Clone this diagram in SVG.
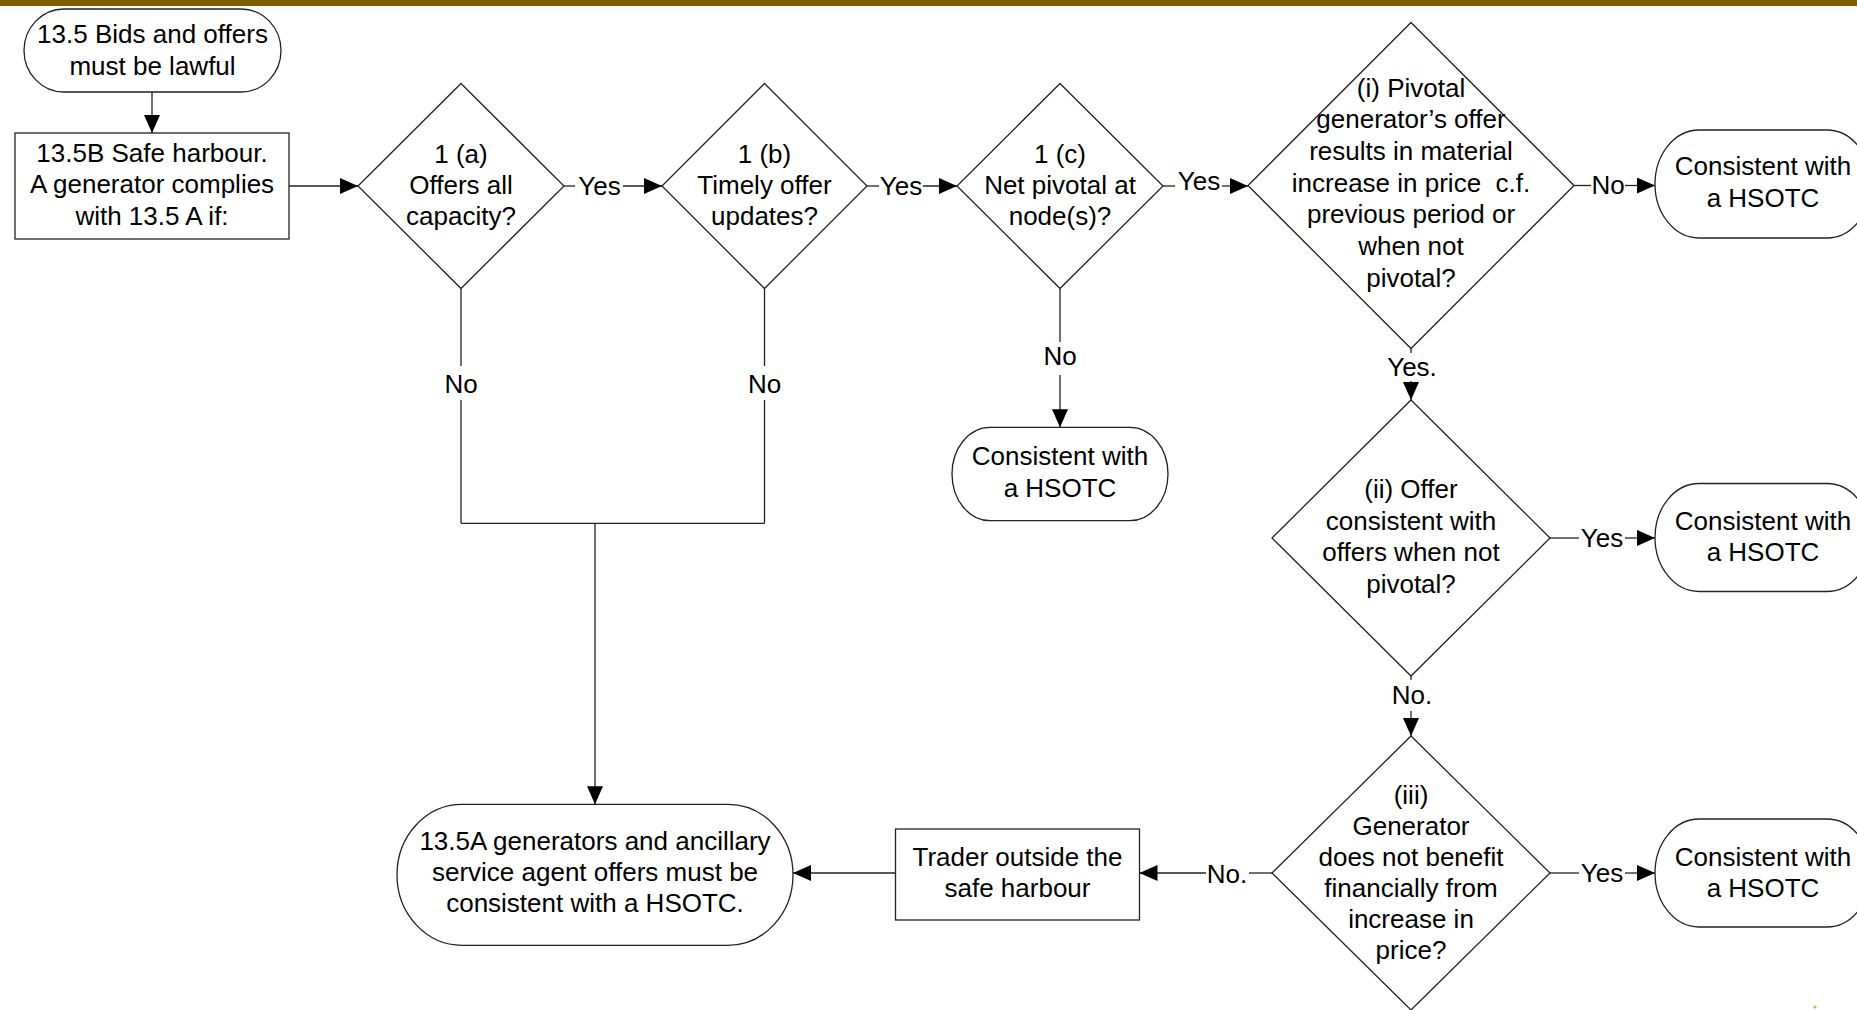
<svg xmlns="http://www.w3.org/2000/svg" width="1857" height="1010" viewBox="0 0 1857 1010">
<style>
  .shape { fill: #ffffff; stroke: #222222; stroke-width: 1.3; }
  .lbl { font-family: "Liberation Sans", Arial, sans-serif; font-size: 26px; fill: #000000; text-anchor: middle; }
  .conn { stroke: #222222; stroke-width: 1.3; fill: none; }
  .arr { marker-end: url(#ah); }
</style>
<defs>
  <marker id="ah" markerUnits="userSpaceOnUse" markerWidth="18" markerHeight="16" viewBox="0 0 18 16" refX="18" refY="8" orient="auto">
    <path d="M0,0 L18,8 L0,16 z" fill="#000000"/>
  </marker>
</defs>
<rect x="0" y="0" width="1857" height="1010" fill="#ffffff"/>
<rect x="0" y="0" width="1857" height="6" fill="#7F6000"/>
<circle cx="1815" cy="1007" r="1.6" fill="#d2ad4a"/>

<g id="connectors">
  <line class="conn arr" x1="152" y1="92" x2="152" y2="133"/>
  <line class="conn arr" x1="289" y1="186" x2="358" y2="186"/>
  <line class="conn" x1="564" y1="186" x2="575" y2="186"/>
  <text class="lbl" x="599.5" y="195">Yes</text>
  <line class="conn arr" x1="623" y1="186" x2="662" y2="186"/>
  <line class="conn" x1="867" y1="186" x2="879" y2="186"/>
  <text class="lbl" x="901" y="195">Yes</text>
  <line class="conn arr" x1="923" y1="186" x2="957" y2="186"/>
  <line class="conn" x1="1163" y1="186" x2="1175" y2="186"/>
  <text class="lbl" x="1199" y="190">Yes</text>
  <line class="conn arr" x1="1222" y1="186" x2="1248" y2="186"/>
  <line class="conn" x1="1574" y1="185.5" x2="1591" y2="185.5"/>
  <text class="lbl" x="1608" y="193.5">No</text>
  <line class="conn arr" x1="1625" y1="185.5" x2="1655" y2="185.5"/>
  <line class="conn" x1="1411" y1="348.5" x2="1411" y2="353"/>
  <text class="lbl" x="1412" y="376">Yes.</text>
  <line class="conn arr" x1="1411" y1="381" x2="1411" y2="400"/>
  <line class="conn" x1="1550" y1="538" x2="1579" y2="538"/>
  <text class="lbl" x="1602" y="546.5">Yes</text>
  <line class="conn arr" x1="1625" y1="538" x2="1655" y2="538"/>
  <line class="conn" x1="1411" y1="676" x2="1411" y2="680"/>
  <text class="lbl" x="1412" y="704">No.</text>
  <line class="conn arr" x1="1411" y1="711" x2="1411" y2="736"/>
  <line class="conn" x1="1550" y1="873" x2="1579" y2="873"/>
  <text class="lbl" x="1602" y="881.5">Yes</text>
  <line class="conn arr" x1="1625" y1="873" x2="1655" y2="873"/>
  <line class="conn" x1="1272" y1="873" x2="1249" y2="873"/>
  <text class="lbl" x="1227" y="882.5">No.</text>
  <line class="conn arr" x1="1206" y1="873" x2="1139.5" y2="873"/>
  <line class="conn arr" x1="895.5" y1="873" x2="793" y2="873"/>
  <line class="conn" x1="461" y1="288.5" x2="461" y2="366"/>
  <text class="lbl" x="461" y="393">No</text>
  <line class="conn" x1="461" y1="400" x2="461" y2="523.3"/>
  <line class="conn" x1="764.5" y1="288.5" x2="764.5" y2="366"/>
  <text class="lbl" x="764.5" y="393">No</text>
  <line class="conn" x1="764.5" y1="400" x2="764.5" y2="523.3"/>
  <line class="conn" x1="461" y1="523.3" x2="764.5" y2="523.3"/>
  <line class="conn arr" x1="595" y1="523.3" x2="595" y2="804.3"/>
  <line class="conn" x1="1060" y1="288.5" x2="1060" y2="342"/>
  <text class="lbl" x="1060" y="365">No</text>
  <line class="conn arr" x1="1060" y1="375" x2="1060" y2="427.3"/>
</g>

<g id="n_start">
  <rect class="shape" x="24" y="9" width="257" height="83" rx="40" ry="41.5"/>
  <text class="lbl" x="152.5" y="43">13.5 Bids and offers</text>
  <text class="lbl" x="152.5" y="75">must be lawful</text>
</g>

<g id="n_safe_harbour">
  <rect class="shape" x="15" y="133" width="274" height="106"/>
  <text class="lbl" x="152" y="161.7">13.5B Safe harbour.</text>
  <text class="lbl" x="152" y="193.3">A generator complies</text>
  <text class="lbl" x="152" y="225">with 13.5 A if:</text>
</g>

<g id="n_1a">
  <polygon class="shape" points="461,83.5 564,186 461,288.5 358,186"/>
  <text class="lbl" x="461" y="163">1 (a)</text>
  <text class="lbl" x="461" y="194">Offers all</text>
  <text class="lbl" x="461" y="224.5">capacity?</text>
</g>

<g id="n_1b">
  <polygon class="shape" points="764.5,83.5 867,186 764.5,288.5 662,186"/>
  <text class="lbl" x="764.5" y="163">1 (b)</text>
  <text class="lbl" x="764.5" y="194">Timely offer</text>
  <text class="lbl" x="764.5" y="224.5">updates?</text>
</g>

<g id="n_1c">
  <polygon class="shape" points="1060,83.5 1163,186 1060,288.5 957,186"/>
  <text class="lbl" x="1060" y="163">1 (c)</text>
  <text class="lbl" x="1060" y="194">Net pivotal at</text>
  <text class="lbl" x="1060" y="224.5">node(s)?</text>
</g>

<g id="n_i">
  <polygon class="shape" points="1411,22.5 1574,185.5 1411,348.5 1248,185.5"/>
  <text class="lbl" x="1411" y="96.7">(i) Pivotal</text>
  <text class="lbl" x="1411" y="128.4">generator’s offer</text>
  <text class="lbl" x="1411" y="160">results in material</text>
  <text class="lbl" x="1411" y="191.7" style="white-space:pre">increase in price  c.f.</text>
  <text class="lbl" x="1411" y="223.4">previous period or</text>
  <text class="lbl" x="1411" y="255">when not</text>
  <text class="lbl" x="1411" y="286.7">pivotal?</text>
</g>

<g id="n_hsotc_1">
  <rect class="shape" x="1655" y="130" width="216" height="108" rx="44" ry="54"/>
  <text class="lbl" x="1763" y="175">Consistent with</text>
  <text class="lbl" x="1763" y="206.7">a HSOTC</text>
</g>

<g id="n_hsotc_mid">
  <rect class="shape" x="952" y="427.3" width="216" height="93.4" rx="38" ry="46.7"/>
  <text class="lbl" x="1060" y="465">Consistent with</text>
  <text class="lbl" x="1060" y="496.7">a HSOTC</text>
</g>

<g id="n_ii">
  <polygon class="shape" points="1411,400 1550,538 1411,676 1272,538"/>
  <text class="lbl" x="1411" y="498">(ii) Offer</text>
  <text class="lbl" x="1411" y="529.5">consistent with</text>
  <text class="lbl" x="1411" y="561">offers when not</text>
  <text class="lbl" x="1411" y="592.5">pivotal?</text>
</g>

<g id="n_hsotc_2">
  <rect class="shape" x="1655" y="483.5" width="216" height="108" rx="44" ry="54"/>
  <text class="lbl" x="1763" y="530">Consistent with</text>
  <text class="lbl" x="1763" y="561">a HSOTC</text>
</g>

<g id="n_iii">
  <polygon class="shape" points="1411,736 1550,873 1411,1010 1272,873"/>
  <text class="lbl" x="1411" y="804">(iii)</text>
  <text class="lbl" x="1411" y="835">Generator</text>
  <text class="lbl" x="1411" y="866">does not benefit</text>
  <text class="lbl" x="1411" y="897">financially from</text>
  <text class="lbl" x="1411" y="928">increase in</text>
  <text class="lbl" x="1411" y="959">price?</text>
</g>

<g id="n_hsotc_3">
  <rect class="shape" x="1655" y="819" width="216" height="108" rx="44" ry="54"/>
  <text class="lbl" x="1763" y="866">Consistent with</text>
  <text class="lbl" x="1763" y="897">a HSOTC</text>
</g>

<g id="n_trader">
  <rect class="shape" x="895.5" y="829" width="244" height="91"/>
  <text class="lbl" x="1017.5" y="866">Trader outside the</text>
  <text class="lbl" x="1017.5" y="897">safe harbour</text>
</g>

<g id="n_13_5a">
  <rect class="shape" x="397" y="804.3" width="396" height="141" rx="65" ry="70.5"/>
  <text class="lbl" x="595" y="850">13.5A generators and ancillary</text>
  <text class="lbl" x="595" y="881">service agent offers must be</text>
  <text class="lbl" x="595" y="912">consistent with a HSOTC.</text>
</g>
</svg>
